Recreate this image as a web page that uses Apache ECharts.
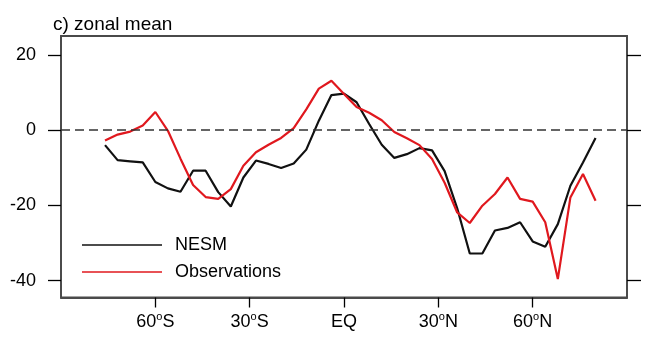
<!DOCTYPE html>
<html>
<head>
<meta charset="utf-8">
<script src="https://cdn.jsdelivr.net/npm/echarts@6/dist/echarts.min.js"></script>
<style>
html,body{margin:0;padding:0;background:#fff;}
#c{width:645px;height:345px;}
</style>
</head>
<body>
<div id="c"></div>
<script>
var latitudes = [-76,-72,-68,-64,-60,-56,-52,-48,-44,-40,-36,-32,-28,-24,-20,-16,-12,-8,-4,0,4,8,12,16,20,24,28,32,36,40,44,48,52,56,60,64,68,72,76,80];
var nesm = [-4.0,-8.0,-8.3,-8.6,-13.8,-15.5,-16.4,-10.8,-10.8,-16.5,-20.3,-12.6,-8.1,-9.0,-10.1,-8.9,-5.2,2.5,9.3,9.7,7.4,1.6,-3.9,-7.4,-6.4,-4.8,-5.4,-10.9,-20.8,-32.8,-32.8,-26.7,-26.0,-24.5,-29.6,-31.0,-25.0,-14.8,-8.6,-2.1];
var observations = [-2.8,-1.2,-0.4,1.2,4.8,-0.2,-7.6,-14.6,-17.8,-18.3,-15.7,-9.5,-5.9,-3.9,-2.1,0.5,5.5,11.0,13.1,9.6,6.1,4.6,2.6,-0.5,-2.2,-4.0,-7.7,-14.0,-21.9,-24.7,-20.1,-17.0,-12.6,-18.3,-19.0,-24.5,-39.6,-17.9,-11.7,-18.8];
var xTicks = [-60,-30,0,30,60];
var yTicks = [20,0,-20,-40];
var seriesNames = ['NESM','Observations'];
var titleText = 'c) zonal mean';

function pairs(vals){ return latitudes.map(function(l,i){ return [l, vals[i]]; }); }
function latLabel(v){
  if (v === 0) return '{n|EQ}';
  var h = v < 0 ? 'S' : 'N';
  return '{n|' + Math.abs(v) + '}{s|o}{n|' + h + '}';
}
var FONT = "'Liberation Sans', Arial, Helvetica, sans-serif";
var frameColor = '#4a4a4a';
var chart = echarts.init(document.getElementById('c'), null, {renderer:'canvas'});
chart.setOption({
  animation:false,
  backgroundColor:'#fff',
  title:{text:titleText,left:48,top:10,textStyle:{fontFamily:FONT,fontSize:19,fontWeight:'normal',color:'#000'}},
  grid:{left:61,top:36,width:566,height:261.5,show:true,borderColor:frameColor,borderWidth:1.8,backgroundColor:'transparent'},
  legend:[
    {data:[seriesNames[0]],left:77,top:230,orient:'vertical',icon:'rect',itemWidth:80,itemHeight:1.6,itemGap:0,
     textStyle:{fontFamily:FONT,fontSize:18,color:'#000',lineHeight:20,padding:[0,0,0,8]}},
    {data:[seriesNames[1]],left:77,top:257,orient:'vertical',icon:'rect',itemWidth:80,itemHeight:1.6,itemGap:0,
     textStyle:{fontFamily:FONT,fontSize:18,color:'#000',lineHeight:20,padding:[0,0,0,8]}}
  ],
  xAxis:{type:'value',min:-90,max:90,
    axisLine:{show:true,onZero:false,lineStyle:{color:frameColor,width:1.8}},
    axisTick:{show:true,customValues:xTicks,length:10,inside:false,lineStyle:{color:'#000',width:1.3}},
    axisLabel:{customValues:xTicks,margin:14,formatter:latLabel,
      rich:{n:{fontFamily:FONT,fontSize:18,color:'#000',lineHeight:20,verticalAlign:'bottom'},
            s:{fontFamily:FONT,fontSize:11,color:'#000',lineHeight:11,verticalAlign:'top'}}},
    splitLine:{show:false}},
  yAxis:[
    {type:'value',min:-44.5,max:25,position:'left',
     axisLine:{show:true,onZero:false,lineStyle:{color:frameColor,width:1.8}},
     axisTick:{show:true,customValues:yTicks,length:13,lineStyle:{color:'#000',width:1.3}},
     axisLabel:{customValues:yTicks,margin:25,fontFamily:FONT,fontSize:18,color:'#000'},
     splitLine:{show:false}},
    {type:'value',min:-44.5,max:25,position:'right',
     axisLine:{show:true,onZero:false,lineStyle:{color:frameColor,width:1.8}},
     axisTick:{show:true,customValues:yTicks,length:14,lineStyle:{color:'#000',width:1.3}},
     axisLabel:{show:false},
     splitLine:{show:false}}
  ],
  series:[
    {name:seriesNames[0],type:'line',data:pairs(nesm),symbol:'none',
     lineStyle:{color:'#111',width:2.2},itemStyle:{color:'#111'},z:3,
     markLine:{silent:true,symbol:'none',label:{show:false},
       lineStyle:{color:'#333',type:[9,5],width:1.5},data:[{yAxis:0}]}},
    {name:seriesNames[1],type:'line',data:pairs(observations),symbol:'none',
     lineStyle:{color:'#e0181e',width:2.2},itemStyle:{color:'#e0181e'},z:4}
  ]
});
</script>
</body>
</html>
